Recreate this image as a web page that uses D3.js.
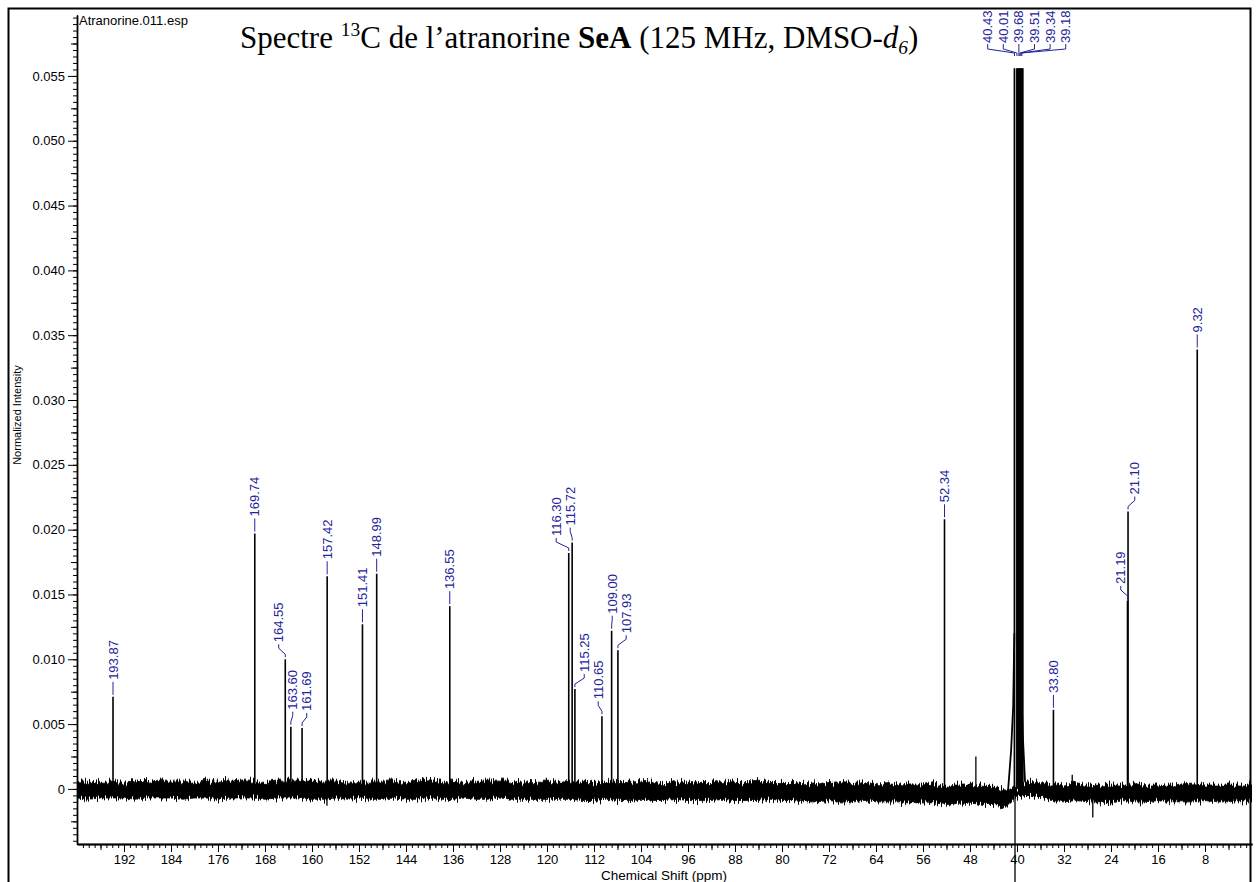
<!DOCTYPE html>
<html>
<head>
<meta charset="utf-8">
<script src="https://cdn.jsdelivr.net/npm/d3@7"></script>
<style>
  body { margin: 0; background: #fff; }
  svg { display: block; }
</style>
</head>
<body>
<svg id="chart" width="1256" height="882"></svg>
<script>
// 13C spectrum of atranorine (SeA), 125 MHz, DMSO-d6

// Labelled sample resonances (ppm) and their normalized heights
const peakPpm    = [193.87, 169.74, 164.55, 163.60, 161.69, 157.42, 151.41, 148.99, 136.55,
                    116.30, 115.72, 115.25, 110.65, 109.00, 107.93, 52.34, 33.80, 21.19, 21.10, 9.32];
const peakHeight = [0.0071, 0.0197, 0.0100, 0.0048, 0.0047, 0.0164, 0.0127, 0.0166, 0.0141,
                    0.0182, 0.0190, 0.0077, 0.0056, 0.0122, 0.0107, 0.0208, 0.0061, 0.0145, 0.0214, 0.0339];

// DMSO-d6 septet (off scale, shown at the clipped height)
const solventPpm      = [40.43, 40.01, 39.85, 39.68, 39.51, 39.34, 39.18, 39.02];
const solventLabelled = [40.43, 40.01, 39.68, 39.51, 39.34, 39.18];
const solventHeight   = 0.0556;
// broad foot of the solvent signal [ppm, intensity]
const solventFootLeft  = [[41.55, -0.0003], [41.00, 0.0030], [40.65, 0.0064], [40.45, 0.0120]];
const solventFootRight = [[39.49, 0.0113], [39.03, 0.0043], [38.64, 0.0006], [38.30, 0.0003]];

// small unlabelled signals and negative artefacts [ppm, intensity]
const minorPeaks     = [[47.00, 0.0025], [30.60, 0.0011]];
const negativeSpikes = [[157.45, -0.0013], [40.34, -0.0072], [27.10, -0.0022]];

// baseline noise envelope, every 2 ppm from 200 down to 0 (units of 1e-4)
const noiseTop = [
  6, 5, 6, 6, 5, 7, 5, 6, 6, 6, 5, 6, 6, 7, 6, 6, 5, 6, 6, 6, 7,
  6, 6, 5, 6, 6, 6, 6, 5, 6, 7, 6, 6, 5, 6, 6, 6, 6, 5, 6, 6,
  5, 6, 5, 5, 6, 5, 5, 6, 5, 4, 5, 6, 5, 5, 6, 5, 5, 6, 5, 5,
  5, 4, 5, 4, 5, 4, 5, 4, 4,
  3, 4, 3, 4, 2, 3, 3, 2, 2,
  -1, 0, 7, 5, 4,
  3, 4, 3, 2, 3, 3, 4, 3, 3, 2, 3, 4, 3, 3, 3, 3, 3
];
const noiseBottom = [
  -7, -8, -7, -7, -7, -8, -7, -7, -7, -8, -7, -7, -8, -7, -7, -7, -8, -7, -7, -7, -8,
  -8, -7, -8, -7, -8, -8, -7, -8, -8, -7, -8, -8, -7, -8, -8, -7, -8, -8, -8, -8,
  -8, -8, -9, -9, -8, -9, -9, -8, -9, -9, -8, -9, -9, -9, -8, -9, -9, -9, -8, -9,
  -9, -10, -10, -9, -10, -10, -9, -10, -10,
  -10, -11, -10, -11, -12, -11, -11, -12, -12,
  -15, -6, -5, -6, -9,
  -10, -9, -10, -10, -11, -9, -10, -10, -9, -10, -10, -10, -9, -10, -10, -9, -10
];

// axis ticks
const xTickValues = [192, 184, 176, 168, 160, 152, 144, 136, 128, 120, 112, 104, 96, 88, 80, 72, 64, 56, 48, 40, 32, 24, 16, 8];
const yTickValues = [0, 0.005, 0.010, 0.015, 0.020, 0.025, 0.030, 0.035, 0.040, 0.045, 0.050, 0.055];
const yTickLabels = ["0", "0.005", "0.010", "0.015", "0.020", "0.025", "0.030", "0.035", "0.040", "0.045", "0.050", "0.055"];

const sans = "'Liberation Sans', Arial, Helvetica, sans-serif";
const serif = "'Liberation Serif', 'Times New Roman', serif";
const labelBlue = "#23239b";

const svg = d3.select("#chart");

const plot = { left: 77, right: 1252, top: 15, bottom: 844 };
const x = d3.scaleLinear().domain([200, 0]).range([plot.left, plot.right]);
const y = d3.scaleLinear().domain([-0.00425, 0.0597]).range([plot.bottom, plot.top]);

const defs = svg.append("defs");
defs.append("clipPath").attr("id", "plotClip")
  .append("rect").attr("x", plot.left).attr("y", plot.top)
  .attr("width", plot.right - plot.left).attr("height", plot.bottom - plot.top);

// ragged edge for the acquisition noise band
const rough = defs.append("filter").attr("id", "rough")
  .attr("x", 0).attr("y", -2).attr("width", 1).attr("height", 5);
rough.append("feTurbulence").attr("type", "fractalNoise")
  .attr("baseFrequency", "0.75 0.015").attr("numOctaves", 2).attr("seed", 7).attr("result", "tex");
rough.append("feDisplacementMap").attr("in", "SourceGraphic").attr("in2", "tex")
  .attr("scale", 14).attr("xChannelSelector", "A").attr("yChannelSelector", "G");

// outer frame
svg.append("rect")
  .attr("x", 8.5).attr("y", 8.5).attr("width", 1242).attr("height", 900)
  .attr("fill", "none").attr("stroke", "#000").attr("stroke-width", 2);

// ---- axes ----
const xMinor = svg.append("g").attr("transform", `translate(0,${plot.bottom})`)
  .call(d3.axisBottom(x).tickValues(d3.range(199, 0, -1)).tickSize(4).tickSizeOuter(0).tickFormat(""));
const xMid = svg.append("g").attr("transform", `translate(0,${plot.bottom})`)
  .call(d3.axisBottom(x).tickValues(d3.range(196, 0, -8)).tickSize(6).tickSizeOuter(0).tickFormat(""));
const xAxis = svg.append("g").attr("transform", `translate(0,${plot.bottom})`)
  .call(d3.axisBottom(x).tickValues(xTickValues).tickSize(8).tickSizeOuter(0).tickPadding(3).tickFormat(d3.format("d")));

const yMinor = svg.append("g").attr("transform", `translate(${plot.left},0)`)
  .call(d3.axisLeft(y).tickValues(d3.range(-8, 120).map(k => k * 0.0005)).tickSize(4).tickSizeOuter(0).tickFormat(""));
const yMid = svg.append("g").attr("transform", `translate(${plot.left},0)`)
  .call(d3.axisLeft(y).tickValues(d3.range(-1, 12).map(k => k * 0.005 + 0.0025)).tickSize(6).tickSizeOuter(0).tickFormat(""));
const yAxis = svg.append("g").attr("transform", `translate(${plot.left},0)`)
  .call(d3.axisLeft(y).tickValues(yTickValues).tickSize(9).tickSizeOuter(0).tickPadding(3)
    .tickFormat((d, i) => yTickLabels[i]));

[xMinor, xMid, xAxis, yMinor, yMid, yAxis].forEach(g => {
  g.selectAll("line").attr("stroke", "#000").attr("stroke-width", 1);
  g.select(".domain").attr("stroke", "#000").attr("stroke-width", 1.3);
  g.selectAll("text").attr("font-family", sans).attr("font-size", 13).attr("fill", "#000");
});

// axis titles
svg.append("text")
  .attr("transform", "translate(21,415) rotate(-90)")
  .attr("text-anchor", "middle").attr("font-family", sans).attr("font-size", 11)
  .text("Normalized Intensity");
svg.append("text")
  .attr("x", 664).attr("y", 880)
  .attr("text-anchor", "middle").attr("font-family", sans).attr("font-size", 13.5)
  .text("Chemical Shift (ppm)");

// file name
svg.append("text")
  .attr("x", 79).attr("y", 24.5)
  .attr("font-family", sans).attr("font-size", 13)
  .text("Atranorine.011.esp");

// title
const title = svg.append("text")
  .attr("x", 240).attr("y", 48)
  .attr("font-family", serif).attr("font-size", 31).attr("fill", "#000");
title.append("tspan").text("Spectre ");
title.append("tspan").attr("font-size", 19.5).attr("dy", -12).text("13");
title.append("tspan").attr("dy", 12).text("C de l’atranorine ");
title.append("tspan").attr("font-weight", "bold").text("SeA");
title.append("tspan").text(" (125 MHz, DMSO-");
title.append("tspan").attr("font-style", "italic").text("d");
title.append("tspan").attr("font-style", "italic").attr("font-size", 19.5).attr("dy", 6).text("6");
title.append("tspan").attr("dy", -6).text(")");

// ---- spectrum ----
const spec = svg.append("g").attr("clip-path", "url(#plotClip)");

const noise = noiseTop.map((t, i) => ({ ppm: 200 - 2 * i, hi: t * 1e-4, lo: noiseBottom[i] * 1e-4 }));
spec.append("g").attr("filter", "url(#rough)")
  .append("path")
  .datum(noise)
  .attr("d", d3.area().x(d => x(d.ppm)).y0(d => y(d.lo)).y1(d => y(d.hi)))
  .attr("fill", "#000").attr("stroke", "#000").attr("stroke-width", 0.8);

const stick = (ppm, h) => `M${x(ppm)},${y(0)}V${y(h)}`;

spec.selectAll("path.peak")
  .data(peakPpm.map((p, i) => ({ ppm: p, h: peakHeight[i] })))
  .join("path").attr("class", "peak")
  .attr("d", d => stick(d.ppm, d.h))
  .attr("stroke", "#000").attr("stroke-width", 1.6).attr("fill", "none");

spec.selectAll("path.minor")
  .data(minorPeaks)
  .join("path").attr("class", "minor")
  .attr("d", d => stick(d[0], d[1]))
  .attr("stroke", "#000").attr("stroke-width", 1.3);

spec.selectAll("path.solvent")
  .data(solventPpm)
  .join("path").attr("class", "solvent")
  .attr("d", p => stick(p, solventHeight))
  .attr("stroke", "#000").attr("stroke-width", 1.8);

const footLine = d3.line().x(d => x(d[0])).y(d => y(d[1]));
[solventFootLeft, solventFootRight].forEach(seg => {
  spec.append("path").attr("d", footLine(seg))
    .attr("fill", "none").attr("stroke", "#000").attr("stroke-width", 1.8);
});

// negative artefacts (the solvent one runs below the axis)
svg.selectAll("path.neg")
  .data(negativeSpikes)
  .join("path").attr("class", "neg")
  .attr("d", d => stick(d[0], d[1]))
  .attr("stroke", "#000").attr("stroke-width", 1.3);

// ---- peak labels ----
function spreadLabels(items, gap) {
  let groups = items.map(d => ({ members: [d], center: d.px }));
  let merged = true;
  while (merged) {
    merged = false;
    for (let i = 0; i < groups.length - 1; i++) {
      const a = groups[i], b = groups[i + 1];
      const aRight = a.center + (a.members.length - 1) / 2 * gap;
      const bLeft = b.center - (b.members.length - 1) / 2 * gap;
      if (bLeft - aRight < gap) {
        const m = a.members.concat(b.members);
        groups.splice(i, 2, { members: m, center: d3.mean(m, d => d.px) });
        merged = true;
        break;
      }
    }
  }
  groups.forEach(g => g.members.forEach((d, k) => {
    d.lx = g.center + (k - (g.members.length - 1) / 2) * gap;
  }));
}

const labels = peakPpm.map((p, i) => ({ ppm: p, px: x(p), top: y(peakHeight[i]) }))
  .sort((a, b) => a.px - b.px);
spreadLabels(labels, 14);

const lab = svg.append("g");
labels.forEach(d => {
  const shifted = Math.abs(d.lx - d.px) > 0.5;
  const path = shifted
    ? `M${d.px},${d.top - 2}V${d.top - 5}L${d.lx},${d.top - 11}V${d.top - 15}`
    : `M${d.px},${d.top - 2}V${d.top - 15}`;
  lab.append("path").attr("d", path)
    .attr("fill", "none").attr("stroke", labelBlue).attr("stroke-width", 1);
  lab.append("text")
    .attr("transform", `translate(${d.lx},${d.top - 17}) rotate(-90)`)
    .attr("dy", "0.35em")
    .attr("font-family", sans).attr("font-size", 13).attr("fill", labelBlue)
    .text(d.ppm.toFixed(2));
});

// solvent labels: a row along the top joined by a bracket
const sGap = 15.6;
const anchorIdx = Math.floor((solventLabelled.length - 1) / 2);
solventLabelled.forEach((p, k) => {
  const px = x(p);
  const lx = x(solventLabelled[anchorIdx]) + (k - anchorIdx) * sGap;
  lab.append("path")
    .attr("d", `M${lx},44V49L${px},53V56`)
    .attr("fill", "none").attr("stroke", labelBlue).attr("stroke-width", 1);
  lab.append("text")
    .attr("transform", `translate(${lx},43) rotate(-90)`)
    .attr("dy", "0.35em")
    .attr("font-family", sans).attr("font-size", 13).attr("fill", labelBlue)
    .text(p.toFixed(2));
});
</script>
</body>
</html>
